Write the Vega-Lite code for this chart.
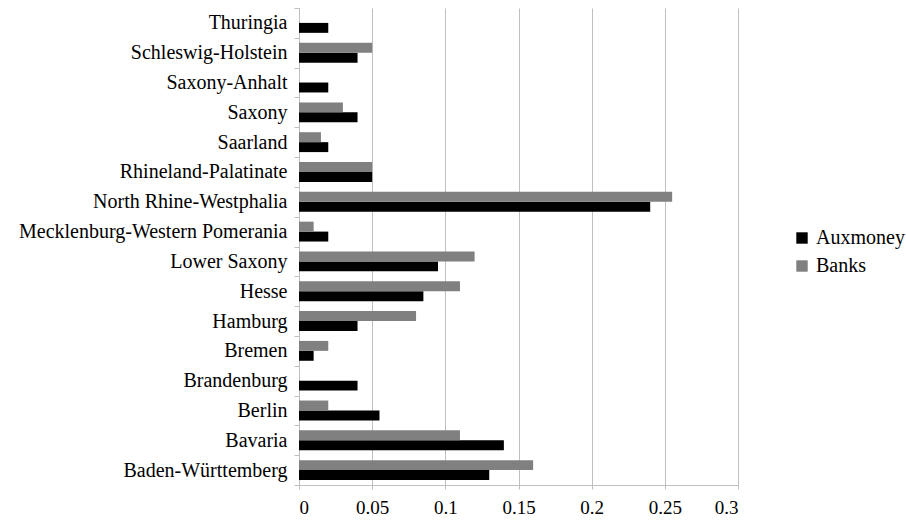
{
  "$schema": "https://vega.github.io/schema/vega-lite/v6.json",
  "width": 439,
  "height": 477,
  "autosize": "none",
  "padding": {"left": 299, "top": 8, "right": 168, "bottom": 36},
  "background": "white",
  "data": {
    "values": [
      {"state": "Thuringia", "series": "Auxmoney", "value": 0.02},
      {"state": "Thuringia", "series": "Banks", "value": 0},
      {"state": "Schleswig-Holstein", "series": "Auxmoney", "value": 0.04},
      {"state": "Schleswig-Holstein", "series": "Banks", "value": 0.05},
      {"state": "Saxony-Anhalt", "series": "Auxmoney", "value": 0.02},
      {"state": "Saxony-Anhalt", "series": "Banks", "value": 0},
      {"state": "Saxony", "series": "Auxmoney", "value": 0.04},
      {"state": "Saxony", "series": "Banks", "value": 0.03},
      {"state": "Saarland", "series": "Auxmoney", "value": 0.02},
      {"state": "Saarland", "series": "Banks", "value": 0.015},
      {"state": "Rhineland-Palatinate", "series": "Auxmoney", "value": 0.05},
      {"state": "Rhineland-Palatinate", "series": "Banks", "value": 0.05},
      {"state": "North Rhine-Westphalia", "series": "Auxmoney", "value": 0.24},
      {"state": "North Rhine-Westphalia", "series": "Banks", "value": 0.255},
      {"state": "Mecklenburg-Western Pomerania", "series": "Auxmoney", "value": 0.02},
      {"state": "Mecklenburg-Western Pomerania", "series": "Banks", "value": 0.01},
      {"state": "Lower Saxony", "series": "Auxmoney", "value": 0.095},
      {"state": "Lower Saxony", "series": "Banks", "value": 0.12},
      {"state": "Hesse", "series": "Auxmoney", "value": 0.085},
      {"state": "Hesse", "series": "Banks", "value": 0.11},
      {"state": "Hamburg", "series": "Auxmoney", "value": 0.04},
      {"state": "Hamburg", "series": "Banks", "value": 0.08},
      {"state": "Bremen", "series": "Auxmoney", "value": 0.01},
      {"state": "Bremen", "series": "Banks", "value": 0.02},
      {"state": "Brandenburg", "series": "Auxmoney", "value": 0.04},
      {"state": "Brandenburg", "series": "Banks", "value": 0},
      {"state": "Berlin", "series": "Auxmoney", "value": 0.055},
      {"state": "Berlin", "series": "Banks", "value": 0.02},
      {"state": "Bavaria", "series": "Auxmoney", "value": 0.14},
      {"state": "Bavaria", "series": "Banks", "value": 0.11},
      {"state": "Baden-Württemberg", "series": "Auxmoney", "value": 0.13},
      {"state": "Baden-Württemberg", "series": "Banks", "value": 0.16}
    ]
  },
  "mark": {"type": "bar"},
  "encoding": {
    "y": {
      "field": "state",
      "type": "nominal",
      "sort": ["Thuringia", "Schleswig-Holstein", "Saxony-Anhalt", "Saxony", "Saarland", "Rhineland-Palatinate", "North Rhine-Westphalia", "Mecklenburg-Western Pomerania", "Lower Saxony", "Hesse", "Hamburg", "Bremen", "Brandenburg", "Berlin", "Bavaria", "Baden-Württemberg"],
      "scale": {"paddingInner": 0, "paddingOuter": 0},
      "axis": {
        "title": null,
        "tickBand": "extent",
        "tickSize": 5,
        "tickColor": "#bfbfbf",
        "domainColor": "#bfbfbf",
        "labelFont": "Liberation Serif",
        "labelFontSize": 20,
        "labelColor": "#000000",
        "labelPadding": 7,
        "labelLimit": 400,
        "grid": false
      }
    },
    "yOffset": {
      "field": "series",
      "type": "nominal",
      "sort": ["Banks", "Auxmoney"],
      "scale": {"paddingInner": 0, "paddingOuter": 0.5}
    },
    "x": {
      "field": "value",
      "type": "quantitative",
      "scale": {"domain": [0, 0.3], "nice": false},
      "axis": {
        "title": null,
        "values": [0, 0.05, 0.1, 0.15, 0.2, 0.25, 0.3],
        "format": "~g",
        "grid": true,
        "gridColor": "#bfbfbf",
        "domainColor": "#bfbfbf",
        "tickColor": "#bfbfbf",
        "tickSize": 4,
        "labelFont": "Liberation Serif",
        "labelFontSize": 19,
        "labelColor": "#000000",
        "labelPadding": 9
      }
    },
    "color": {
      "field": "series",
      "type": "nominal",
      "scale": {"domain": ["Auxmoney", "Banks"], "range": ["#000000", "#808080"]},
      "legend": {
        "title": null,
        "orient": "none",
        "legendX": 493,
        "legendY": 220,
        "symbolType": "square",
        "symbolSize": 130,
        "symbolStrokeWidth": 0,
        "labelFont": "Liberation Serif",
        "labelFontSize": 20,
        "labelColor": "#000000",
        "rowPadding": 8
      }
    }
  },
  "config": {"view": {"stroke": null}}
}
